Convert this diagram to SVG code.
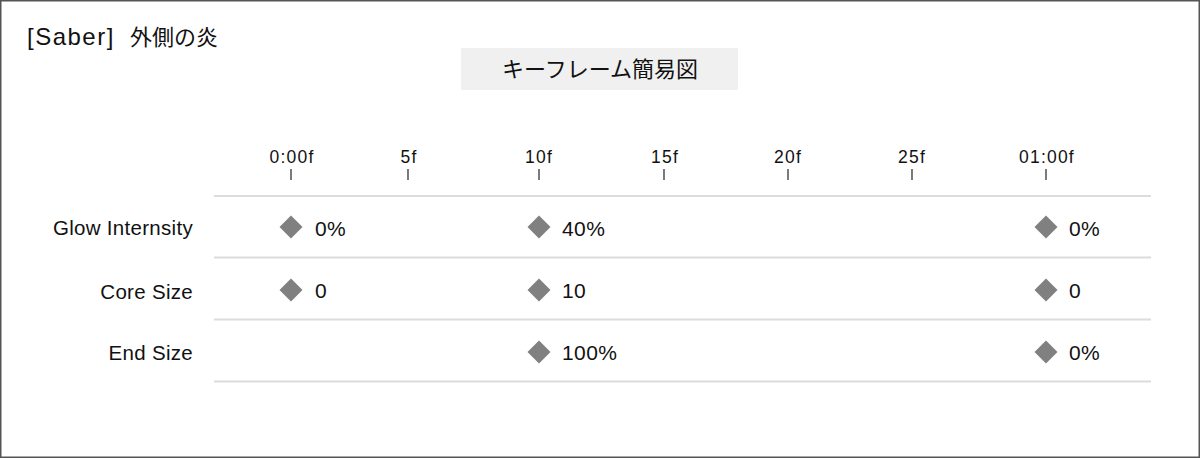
<svg xmlns="http://www.w3.org/2000/svg" width="1200" height="458" viewBox="0 0 1200 458">
<style>
text{font-family:"Liberation Sans","Noto Sans CJK JP",sans-serif;fill:#111}
.tick{font-size:17.5px;letter-spacing:1.2px;text-anchor:middle}
.row{font-size:20.5px;letter-spacing:0.3px;text-anchor:end}
.val{font-size:21px;letter-spacing:0.4px}
.grid{stroke:#dcdcdc;stroke-width:2}
.tk{stroke:#333;stroke-width:1.3}
.kf{fill:#808080}
</style>
<defs><path id="dia" d="M0,-11.5 L11.5,0 L0,11.5 L-11.5,0 Z"/></defs>
<rect x="0.75" y="0.75" width="1198.5" height="456.5" fill="#fff" stroke="#555" stroke-width="1.5"/>
<g id="title"><text x="27" y="45"><tspan style="font-size:24px;letter-spacing:1.5px">[Saber]</tspan><tspan x="130" style="font-size:22px">外側の炎</tspan></text></g>
<g id="header"><rect x="461" y="48" width="277" height="42" fill="#f0f0f0"/><text x="600" y="77" style="font-size:22px;text-anchor:middle">キーフレーム簡易図</text></g>
<g id="axis">
<text class="tick" x="292" y="163">0:00f</text>
<text class="tick" x="409" y="163">5f</text>
<text class="tick" x="539" y="163">10f</text>
<text class="tick" x="665" y="163">15f</text>
<text class="tick" x="788" y="163">20f</text>
<text class="tick" x="912" y="163">25f</text>
<text class="tick" x="1047" y="163">01:00f</text>
<line class="tk" x1="291" y1="169" x2="291" y2="180"/>
<line class="tk" x1="408" y1="169" x2="408" y2="180"/>
<line class="tk" x1="539" y1="169" x2="539" y2="180"/>
<line class="tk" x1="664" y1="169" x2="664" y2="180"/>
<line class="tk" x1="788" y1="169" x2="788" y2="180"/>
<line class="tk" x1="912" y1="169" x2="912" y2="180"/>
<line class="tk" x1="1046" y1="169" x2="1046" y2="180"/>
</g>
<g id="connectors">
<line class="grid" x1="214" y1="196" x2="1151" y2="196"/>
<line class="grid" x1="214" y1="257.5" x2="1151" y2="257.5"/>
<line class="grid" x1="214" y1="319.5" x2="1151" y2="319.5"/>
<line class="grid" x1="214" y1="381.5" x2="1151" y2="381.5"/>
</g>
<g id="row-glow">
<text class="row" x="193" y="235">Glow Internsity</text>
<use href="#dia" class="kf" x="291" y="227"/><text class="val" x="315" y="236">0%</text>
<use href="#dia" class="kf" x="539" y="227"/><text class="val" x="562" y="236">40%</text>
<use href="#dia" class="kf" x="1046" y="227"/><text class="val" x="1069" y="236">0%</text>
</g>
<g id="row-core">
<text class="row" x="193" y="299">Core Size</text>
<use href="#dia" class="kf" x="291" y="290"/><text class="val" x="315" y="298">0</text>
<use href="#dia" class="kf" x="539" y="290"/><text class="val" x="562" y="298">10</text>
<use href="#dia" class="kf" x="1046" y="290"/><text class="val" x="1069" y="298">0</text>
</g>
<g id="row-end">
<text class="row" x="193" y="360">End Size</text>
<use href="#dia" class="kf" x="539" y="352"/><text class="val" x="562" y="360">100%</text>
<use href="#dia" class="kf" x="1046" y="352"/><text class="val" x="1069" y="360">0%</text>
</g>
</svg>
